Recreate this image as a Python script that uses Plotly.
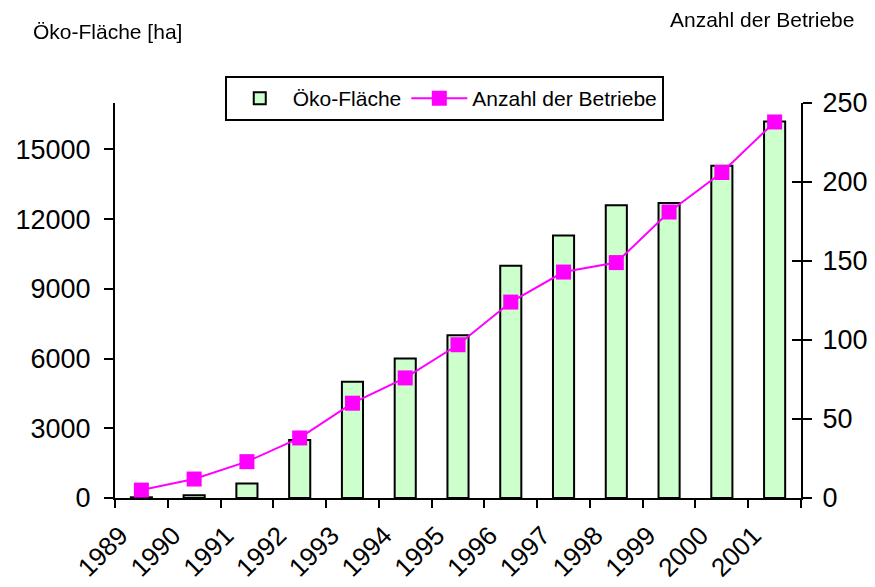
import plotly.graph_objects as go

years = ["1989", "1990", "1991", "1992", "1993", "1994", "1995", "1996",
         "1997", "1998", "1999", "2000", "2001"]
flaeche = [30, 120, 620, 2500, 5000, 6000, 7000, 10000, 11300, 12600, 12700, 14300, 16200]
betriebe = [5, 12, 23, 38, 60, 76, 97, 124, 143, 149, 181, 206, 238]
left_ticks = [0, 3000, 6000, 9000, 12000, 15000]
right_ticks = [0, 50, 100, 150, 200, 250]

FONT = "Liberation Sans, Arial, sans-serif"

fig = go.Figure()
fig.add_trace(go.Bar(
    x=years, y=flaeche, name="Öko-Fläche",
    marker=dict(color="#CCFFCC", line=dict(color="black", width=2)),
    width=0.4, yaxis="y",
))
fig.add_trace(go.Scatter(
    x=years, y=betriebe, name="Anzahl der Betriebe", mode="lines+markers",
    line=dict(color="#FF00FF", width=2),
    marker=dict(symbol="square", size=15, color="#FF00FF"),
    yaxis="y2",
))
# invisible helper trace so the inner half of the right-axis ticks is drawn
fig.add_trace(go.Scatter(
    x=years, y=betriebe, mode="markers", opacity=0, showlegend=False,
    hoverinfo="skip", yaxis="y3",
))

tick_common = dict(ticklen=9, tickwidth=2, tickcolor="black", showgrid=False, zeroline=False)

fig.update_layout(
    width=867, height=579,
    margin=dict(l=107, r=74, t=95, b=89, autoexpand=False),
    paper_bgcolor="white", plot_bgcolor="white",
    font=dict(family=FONT, color="black"),
    showlegend=True,
    legend=dict(
        orientation="h", x=0.16, xanchor="left", y=1.068, yanchor="top",
        bordercolor="black", borderwidth=2, bgcolor="white",
        font=dict(size=21, family=FONT), itemwidth=56, tracegroupgap=0,
    ),
    xaxis=dict(
        type="category", showline=True, linecolor="black", linewidth=2,
        ticks="outside", tickson="boundaries", ticklen=8, tickwidth=2, tickcolor="black",
        tickangle=-45, tickfont=dict(size=26, family=FONT), showgrid=False,
        range=[-0.5, 12.5], automargin=False,
        ticklabelshift=-21, ticklabelstandoff=10,
    ),
    yaxis=dict(
        range=[0, 17000], tickvals=left_ticks, ticktext=[str(v) for v in left_ticks],
        showline=True, linecolor="black", linewidth=2,
        ticks="outside", tickfont=dict(size=27, family=FONT), automargin=False,
        ticklabelstandoff=8,
        **tick_common,
    ),
    yaxis2=dict(
        range=[0, 250], tickvals=right_ticks, overlaying="y", side="right",
        showline=True, linecolor="black", linewidth=2,
        ticks="outside", tickfont=dict(size=27, family=FONT), automargin=False,
        ticklabelstandoff=5,
        **tick_common,
    ),
    yaxis3=dict(
        range=[0, 250], tickvals=right_ticks, overlaying="y", side="right",
        showline=False, ticks="inside", showticklabels=False, automargin=False,
        **tick_common,
    ),
    annotations=[
        dict(text="Öko-Fläche [ha]", xref="paper", yref="paper", x=-0.122, y=1.182,
             xanchor="left", yanchor="middle", showarrow=False, font=dict(size=21, family=FONT)),
        dict(text="Anzahl der Betriebe", xref="paper", yref="paper", x=1.08, y=1.212,
             xanchor="right", yanchor="middle", showarrow=False, font=dict(size=21, family=FONT)),
    ],
)

fig.write_html("out.html")
